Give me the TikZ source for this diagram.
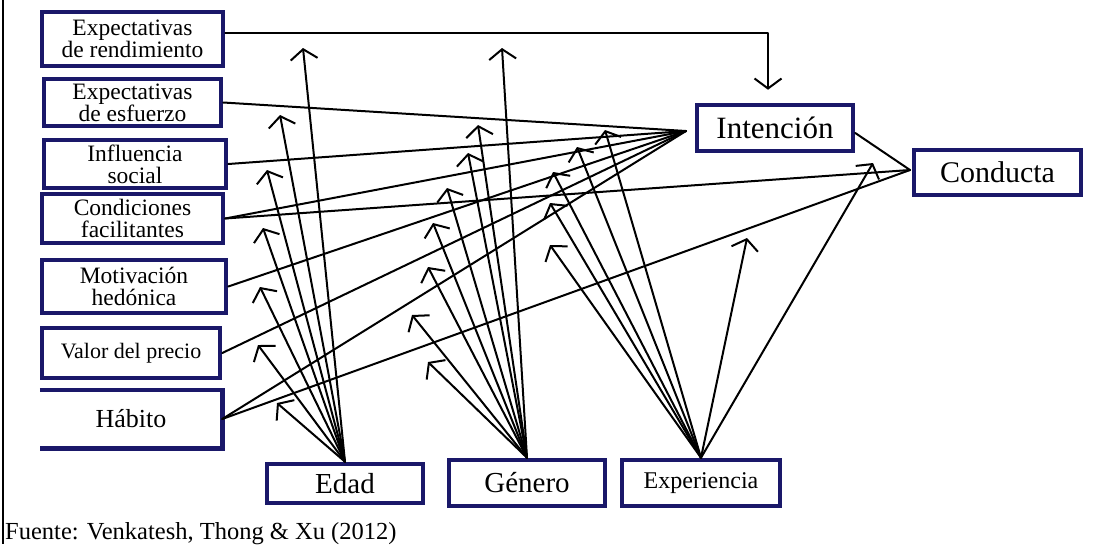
\documentclass[tikz,border=0pt]{standalone}
\usepackage{fontspec}
\setmainfont{Liberation Serif}
\usetikzlibrary{arrows.meta}
\definecolor{boxblue}{RGB}{26,24,105}
\begin{document}
\begin{tikzpicture}[x=1pt,y=-1pt,
  box/.style={draw=boxblue, line width=4.5pt, fill=white, inner sep=0pt, align=center},
  lbox/.style={box, font=\fontsize{23.5}{22}\selectfont},
  bigbox/.style={box, font=\fontsize{29}{30}\selectfont},
  link/.style={line width=2pt, line cap=round, line join=round},
  mod/.style={link, -{Straight Barb[length=10pt,width=27pt]}},
]
\useasboundingbox (0,0) rectangle (1115,544);

% left frame rule
\draw[line width=1.5pt] (3,0) -- (3,544);

% determinants
\node[lbox, minimum width=181pt, minimum height=54pt] (er) at (132.5,39) {Expectativas\\de rendimiento};
\node[lbox, minimum width=177pt, minimum height=47pt] (ee) at (132.5,102.5) {Expectativas\\de esfuerzo};
\node[lbox, minimum width=182pt, minimum height=48pt] (is) at (135,164) {Influencia\\social};
\node[lbox, minimum width=181pt, minimum height=49pt] (cf) at (132.5,218.5) {Condiciones\\facilitantes};
\node[lbox, minimum width=184pt, minimum height=53pt] (mh) at (134,286.5) {Motivación\\hedónica};
\node[lbox, font=\fontsize{22}{22}\selectfont, minimum width=178pt, minimum height=50pt] (vp) at (131,353) {Valor del precio};
\node[lbox, draw=none, font=\fontsize{26}{26}\selectfont, minimum width=178pt, minimum height=54pt] (hb) at (131,419) {Hábito};
\draw[draw=boxblue, line width=4.5pt] (hb.north west) -- (hb.north east) -- (hb.south east) -- (hb.south west);

% outcomes
\node[bigbox, font=\fontsize{31}{31}\selectfont, minimum width=156pt, minimum height=46pt] (int) at (775,128) {Intención};
\node[bigbox, font=\fontsize{30}{30}\selectfont, minimum width=167pt, minimum height=45pt] (cd) at (997.5,172.5) {Conducta};

% moderators
\node[bigbox, minimum width=156pt, minimum height=39pt] (ed) at (345,483.5) {Edad};
\node[bigbox, minimum width=156pt, minimum height=46pt] (ge) at (527,483) {Género};
\node[box, font=\fontsize{24}{24}\selectfont, minimum width=158pt, minimum height=46pt] (ex) at (701,483) {Experiencia};

% convergence points just left of the outcome boxes
\coordinate (ip) at (686,131);
\coordinate (cp) at (910,170);

% paths into Intención
\draw[mod] ([yshift=6pt]er.east) -| ([xshift=-7pt,yshift=13pt]int.north);
\foreach \src in {ee,is,cf,mh,vp,hb}
  \draw[link] (\src.east) -- (ip);

% paths into Conducta
\draw[link] ([yshift=-5pt]int.east) -- (cp);
\draw[link] (cf.east) -- (cp);
\draw[link] (hb.east) -- (cp);

% moderating effects
\foreach \x/\y [count=\i] in {303/48, 280/115, 267/170, 263/228, 260/287, 258/345, 277/403} {
  \coordinate (ea\i) at (\x,\y);
  \draw[mod] (ed.north) -- (ea\i);
}
\foreach \x/\y [count=\i] in {502/48, 478/125, 468/153, 447/188, 433/223, 428/267, 412/315, 428/362} {
  \coordinate (ga\i) at (\x,\y);
  \draw[mod] (ge.north) -- (ga\i);
}
\foreach \x/\y [count=\i] in {605/130, 577/147, 553/172, 550/203, 550/245, 747/238, 873/163} {
  \coordinate (xa\i) at (\x,\y);
  \draw[mod] (ex.north) -- (xa\i);
}

% source note
\node[anchor=base west, inner sep=0pt, font=\fontsize{24.5}{24.5}\selectfont] (src) at (5,539) {Fuente: Venkatesh, Thong \& Xu (2012)};
\end{tikzpicture}
\end{document}
